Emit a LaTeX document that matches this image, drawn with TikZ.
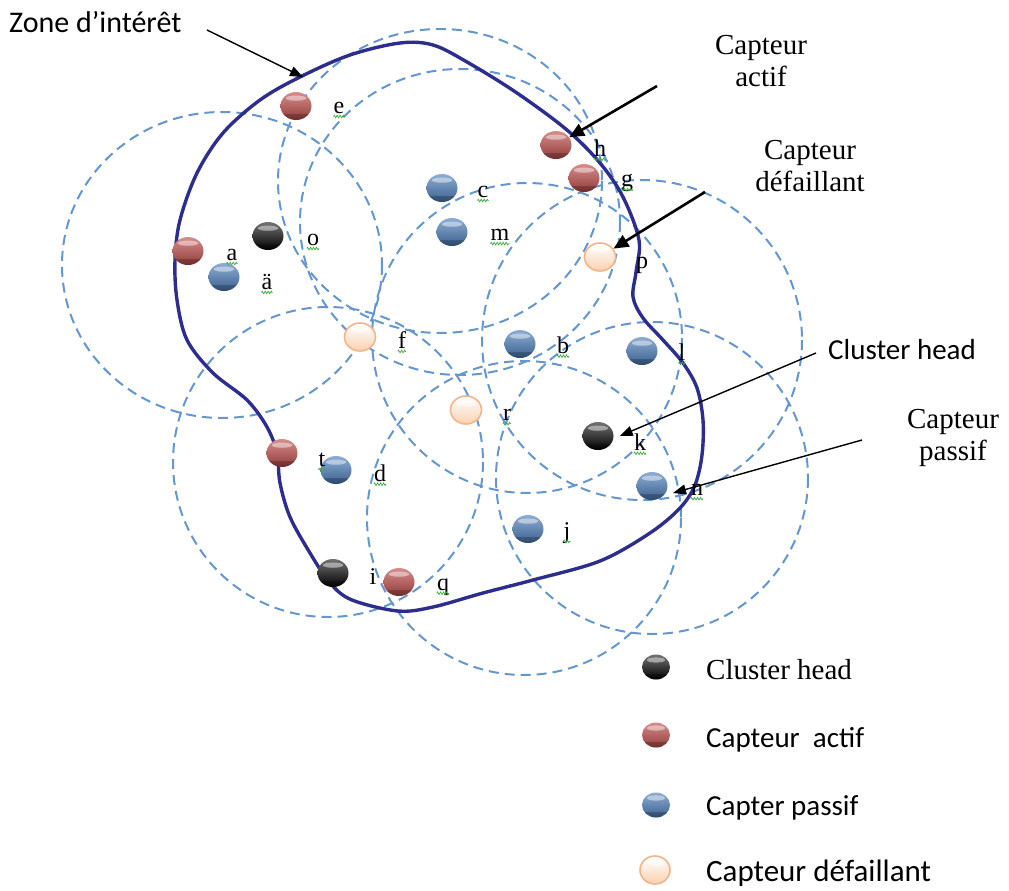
\documentclass[tikz,border=0pt]{standalone}
\usepackage{fontspec}
\setmainfont{Liberation Serif}
\newfontfamily\calib{Carlito}
\usetikzlibrary{shapes.geometric,arrows.meta,decorations.pathmorphing}

\definecolor{rangeblue}{RGB}{100,150,210}
\definecolor{zonenavy}{RGB}{44,45,142}
\definecolor{actifred}{RGB}{192,80,77}
\definecolor{passifblue}{RGB}{79,129,189}
\definecolor{cheadblack}{RGB}{25,25,25}
\definecolor{defailpeach}{RGB}{249,218,196}
\definecolor{defailrim}{RGB}{242,180,138}
\definecolor{squiggreen}{RGB}{60,170,60}

\begin{document}
\begin{tikzpicture}[x=1pt,y=-1pt,
  sensingdisc/.style={draw=rangeblue, line width=2pt, dash pattern=on 10pt off 6pt},
  zoneline/.style={draw=zonenavy, line width=3.4pt},
  sensorshape/.style={ellipse, minimum width=31pt, minimum height=28pt, inner sep=0pt},
  sensor/.style={sensorshape,
    path picture={
      \fill[white, opacity=0.45]
        ([yshift=-0.22*\pgfkeysvalueof{/pgf/minimum height}]path picture bounding box.north)
        ellipse [x radius=0.33*\pgfkeysvalueof{/pgf/minimum width}, y radius=2.6pt];
      \fill[black, opacity=0.22]
        (path picture bounding box.south west) rectangle
        ([yshift=6pt]path picture bounding box.south east);
    }},
  button/.style={sensor, top color=#1!65!white, middle color=#1, bottom color=#1!75!black},
  chead/.style={sensor, top color=black!55, middle color=cheadblack, bottom color=black},
  actif/.style={button=actifred},
  passif/.style={button=passifblue},
  defail/.style={sensorshape, top color=white, bottom color=defailpeach!90!orange,
    draw=defailrim, line width=1.6pt,
    path picture={
      \fill[white, opacity=0.5]
        ([yshift=-0.25*\pgfkeysvalueof{/pgf/minimum height}]path picture bounding box.north)
        ellipse [x radius=0.3*\pgfkeysvalueof{/pgf/minimum width}, y radius=3pt];
    }},
  legendball/.style={minimum width=28pt, minimum height=25pt},
  sensortag/.style={font=\fontsize{24}{26}\selectfont, inner sep=0pt},
  squig/.style={draw=squiggreen, line width=0.7pt, decorate,
    decoration={zigzag, amplitude=1.3pt, segment length=3pt}},
  serifnote/.style={font=\fontsize{29}{32}\selectfont, inner sep=0pt, align=center},
  sansnote/.style={font=\calib\fontsize{29}{32}\selectfont, inner sep=0pt},
  thinpointer/.style={draw=black, line width=1.4pt, -{Triangle[length=13pt,width=10pt]}},
  boldpointer/.style={draw=black, line width=2.6pt, -{Triangle[length=15pt,width=13pt]}},
]
\useasboundingbox (0,0) rectangle (1009,891);

% sensing ranges
\draw[sensingdisc] (222,265) ellipse [x radius=160, y radius=153];
\draw[sensingdisc] (440,181) ellipse [x radius=162, y radius=152];
\draw[sensingdisc] (460,222) ellipse [x radius=160, y radius=153];
\draw[sensingdisc] (527,338) circle [radius=155];
\draw[sensingdisc] (642,340) circle [radius=160];
\draw[sensingdisc] (328,462) circle [radius=155];
\draw[sensingdisc] (524,518) circle [radius=157];
\draw[sensingdisc] (652,478) circle [radius=156];

% zone of interest
\draw[zoneline] plot[smooth cycle, tension=0.55] coordinates {
  (300,77) (350,55) (400,43) (433,45) (467,62) (517,93) (567,130)
  (600,163) (623,197) (639,240) (636,272) (633,297) (643,318) (663,340)
  (683,363) (697,388) (703,420) (702,455) (695,485) (680,508) (650,533)
  (600,561) (533,580) (483,593) (433,607) (398,611) (352,600) (330,583)
  (310,553) (290,517) (280,483) (277,453) (267,427) (247,400) (213,373)
  (187,340) (177,300) (175,260) (180,220) (197,173) (223,133) (260,100)};

% sensors
\node[actif]  (e)  at (296,106) {};
\node[actif]  (h)  at (556,145) {};
\node[actif]  (g)  at (584,178) {};
\node[passif] (c)  at (442,188) {};
\node[passif] (m)  at (452,232) {};
\node[chead]  (o)  at (268,236) {};
\node[actif]  (aR) at (188,251) {};
\node[passif] (aB) at (224,277) {};
\node[defail] (p)  at (600,257) {};
\node[defail] (f)  at (360,337) {};
\node[passif] (b)  at (520,344) {};
\node[passif] (l)  at (642,351) {};
\node[defail] (r)  at (466,410) {};
\node[chead]  (k)  at (598,436) {};
\node[actif]  (tR) at (282,453) {};
\node[passif] (tB) at (336,470) {};
\node[passif] (n)  at (652,486) {};
\node[passif] (j)  at (528,529) {};
\node[chead]  (i)  at (333,573) {};
\node[actif]  (q)  at (399,582) {};

% sensor letters, with their spell-check squiggles
\foreach \nm/\x/\y/\txt in {e/339/108/e, h/600/148/h, g/627/183/g, c/483/192/c,
    m/500/235/m, o/313/240/o, a/232/255/a, aa/267/282/ä, f/402/340/f,
    b/563/345/b, l/682/352/l, r/507/415/r, k/640/442/k, t/322/460/t,
    d/380/473/d, n/697/490/n, j/567/533/j, q/443/587/q} {
  \node[sensortag] (lbl\nm) at (\x,\y) {\txt};
  \draw[squig] ([yshift=-3pt]lbl\nm.base west) -- ([yshift=-3pt]lbl\nm.base east);
}
\node[sensortag] (lblp) at (642,265) {p};
\node[sensortag] (lbli) at (373,577) {i};

% annotations
\node[anchor=west, font=\calib\fontsize{30}{32}\selectfont, inner sep=0pt]
  (zoneLbl) at (9,22) {Zone d’intérêt};
\coordinate (zoneTail) at (207,30);
\coordinate (zoneTip) at (303,77);
\draw[thinpointer] (zoneTail) -- (zoneTip);

\node[serifnote] (actifLbl) at (761,61) {Capteur\\actif};
\coordinate (actifTail) at (657,86);
\draw[boldpointer] (actifTail) -- (h);

\node[serifnote] (defailLbl) at (810,166) {Capteur\\défaillant};
\coordinate (defailTail) at (705,192);
\draw[boldpointer] (defailTail) -- (p);

\node[sansnote] (chLbl) at (902,350) {Cluster head};
\coordinate (chTail) at (816,353);
\draw[thinpointer] (chTail) -- ([xshift=6pt]k.east);

\node[serifnote] (passifLbl) at (953,438) {Capteur\\passif};
\coordinate (passifTail) at (862,440);
\coordinate (passifTip) at (673,493);
\draw[thinpointer] (passifTail) -- (passifTip);

% legend
\node[chead, legendball]  (legCH) at (656,667) {};
\node[actif, legendball]  (legAC) at (656,735) {};
\node[passif, legendball] (legPA) at (656,805) {};
\node[defail, legendball, minimum width=30pt, minimum height=28pt] (legDE) at (655,870) {};
\node[anchor=west, font=\fontsize{29}{32}\selectfont, inner sep=0pt] (legCHt) at (706,670) {Cluster head};
\node[anchor=west, sansnote] (legACt) at (706,740) {Capteur\ \ actif};
\node[anchor=west, sansnote] (legPAt) at (706,808) {Capter passif};
\node[anchor=west, sansnote, font=\calib\fontsize{31}{32}\selectfont] (legDEt) at (706,873) {Capteur défaillant};
\end{tikzpicture}
\end{document}
